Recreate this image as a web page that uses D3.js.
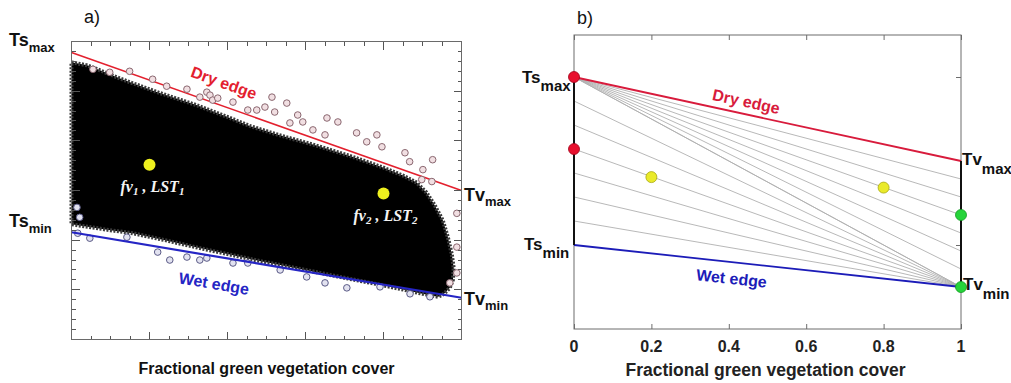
<!DOCTYPE html>
<html><head><meta charset="utf-8">
<script src="https://cdn.jsdelivr.net/npm/d3@7"></script>
<style>body{margin:0;background:#fff}svg{display:block}</style>
</head><body>
<script>
// ---------- DATA ----------
const fvTicks = [0, 0.2, 0.4, 0.6, 0.8, 1];
const fvTickLabels = ["0", "0.2", "0.4", "0.6", "0.8", "1"];
const xTitle = "Fractional green vegetation cover";

// Panel a (fv, LST)
const dryEdgeA = [[0, 318.9], [1, 305.0]];
const wetEdgeA = [[0, 300.8], [1, 294.2]];
const cloudOutlineA = [
  [0, 317.9], [0.04, 317.6], [0.073, 317.1], [0.11, 316.5], [0.15, 315.9], [0.22, 314.9],
  [0.32, 313.6], [0.40, 312.4], [0.457, 311.5], [0.53, 310.6], [0.63, 309.5],
  [0.72, 308.4], [0.80, 307.3], [0.85, 306.5], [0.885, 305.8], [0.91, 304.8],
  [0.93, 303.6], [0.952, 302.0], [0.965, 300.3], [0.975, 298.6], [0.98, 297.2],
  [0.978, 296.0], [0.97, 295.2], [0.955, 294.6], [0.94, 294.3],
  [0.90, 294.6], [0.842, 295.1], [0.78, 295.6], [0.714, 296.1], [0.60, 297.0],
  [0.483, 297.9], [0.40, 298.6], [0.329, 299.2], [0.24, 300.0], [0.157, 300.7],
  [0.10, 301.0], [0.05, 301.3], [0, 301.6]
];
const dryOutliersA = [
  [0.055, 317.2], [0.098, 316.9], [0.149, 317.0], [0.208, 316.2], [0.244, 315.5],
  [0.296, 315.2], [0.329, 314.4], [0.347, 314.9], [0.355, 314.6], [0.362, 314.1],
  [0.375, 314.3], [0.414, 313.9], [0.452, 313.1], [0.475, 313.1], [0.496, 313.4],
  [0.514, 314.4], [0.521, 312.9], [0.552, 313.8], [0.560, 311.8], [0.580, 312.6],
  [0.593, 311.9], [0.619, 311.1], [0.650, 310.6], [0.655, 312.3], [0.683, 311.9],
  [0.731, 310.8], [0.757, 309.9], [0.783, 310.6], [0.796, 309.4], [0.855, 308.8],
  [0.867, 307.9], [0.901, 307.1], [0.926, 308.1], [0.898, 306.1], [0.924, 305.9],
  [0.988, 302.7], [0.988, 299.3], [0.988, 296.7], [0.970, 295.7]
];
const wetOutliersA = [
  [0.014, 303.3], [0.021, 302.3], [0.016, 300.7], [0.047, 300.2], [0.142, 300.3],
  [0.221, 298.8], [0.252, 298.0], [0.296, 298.3], [0.329, 298.0], [0.347, 298.2],
  [0.414, 297.7], [0.452, 297.7], [0.535, 297.0], [0.603, 296.3], [0.650, 295.7],
  [0.706, 295.2], [0.791, 295.3], [0.868, 294.6], [0.919, 294.3]
];
const pixelsA = [[0.2, 307.6], [0.8, 304.7]];
const pixelLabelsA = [["fv", "1", "LST", "1"], ["fv", "2", "LST", "2"]];

// Panel b
const TsMax = 316, TsMin = 292, TvMax = 304, TvMin = 286;
const leftIsoB = [316, 312.57, 309.14, 305.71, 302.29, 298.86, 295.43];
const rightIsoB = [301.43, 298.86, 296.29, 293.71, 291.14, 288.57, 286];
const redDotsB = [[0, 316], [0, 305.71]];
const greenDotsB = [[1, 296.29], [1, 286]];
const yellowDotsB = [[0.2, 301.7], [0.8, 300.2]];

// ---------- DRAW ----------
const W = 1011, H = 383;
const svg = d3.select("body").append("svg").attr("width", W).attr("height", H)
  .style("font-family", "'Liberation Sans', Arial, sans-serif");

const xa = d3.scaleLinear([0, 1], [71.5, 461.5]);
const ya = d3.scaleLinear([290, 320], [339.5, 41.5]);
const xb = d3.scaleLinear([0, 1], [574, 961]);
const yb = d3.scaleLinear([280, 322], [329, 35]);

const axisCol = "#555";
const red = "#e3202e", blue = "#2525c4";

function label(g, x, y, main, sub, size, subSize, dy, anchor) {
  const t = g.append("text").attr("x", x).attr("y", y).attr("font-weight", "bold")
    .attr("font-size", size).attr("fill", "#111").attr("text-anchor", anchor || "start");
  t.append("tspan").text(main);
  t.append("tspan").attr("font-size", subSize).attr("dy", dy).text(sub);
  return t;
}

// ===== Panel a =====
const ga = svg.append("g");
const line = (xs, ys) => d3.line().x(d => xs(d[0])).y(d => ys(d[1]));

ga.append("path").datum(cloudOutlineA)
  .attr("d", line(xa, ya).curve(d3.curveLinearClosed))
  .attr("fill", "#000").attr("stroke", "#3a3a3a").attr("stroke-width", 4)
  .attr("stroke-dasharray", "2,1.5");

ga.selectAll("circle.wet").data(wetOutliersA).join("circle").attr("class", "wet")
  .attr("cx", d => xa(d[0])).attr("cy", d => ya(d[1])).attr("r", 3.3)
  .attr("fill", "#e2e2f0").attr("stroke", "#5a5a86").attr("stroke-width", 1);

ga.append("path").datum(dryEdgeA).attr("d", line(xa, ya))
  .attr("stroke", red).attr("stroke-width", 1.6).attr("fill", "none");
ga.append("path").datum(wetEdgeA).attr("d", line(xa, ya))
  .attr("stroke", blue).attr("stroke-width", 2.2).attr("fill", "none");

ga.selectAll("circle.dry").data(dryOutliersA).join("circle").attr("class", "dry")
  .attr("cx", d => xa(d[0])).attr("cy", d => ya(d[1])).attr("r", 3.3)
  .attr("fill", "#f1dfe2").attr("stroke", "#8a6770").attr("stroke-width", 1);

// axes / ticks
function ticksA() {
  const minorX = d3.range(0, 1.0001, 0.05), majorX = fvTicks;
  const minorY = d3.range(290, 320.001, 1), majorY = d3.range(290, 320.001, 5);
  const mk = (axisFn, scale, vals, len) => axisFn(scale).tickValues(vals).tickSize(len).tickFormat("").offset(0);
  const add = (ax, tr) => {
    const g = ga.append("g").attr("transform", tr).call(ax);
    g.select(".domain").remove();
    g.selectAll("line").attr("stroke", axisCol).attr("stroke-width", 1).attr("shape-rendering", "crispEdges");
  };
  add(mk(d3.axisBottom, xa, minorX, 4), `translate(0,${ya(320)})`);
  add(mk(d3.axisBottom, xa, majorX, 8), `translate(0,${ya(320)})`);
  add(mk(d3.axisTop, xa, minorX, 4), `translate(0,${ya(290)})`);
  add(mk(d3.axisTop, xa, majorX, 8), `translate(0,${ya(290)})`);
  add(mk(d3.axisRight, ya, minorY, 4), `translate(${xa(0)},0)`);
  add(mk(d3.axisRight, ya, majorY, 8), `translate(${xa(0)},0)`);
  add(mk(d3.axisLeft, ya, minorY, 4), `translate(${xa(1)},0)`);
  add(mk(d3.axisLeft, ya, majorY, 8), `translate(${xa(1)},0)`);
}
ticksA();
ga.append("rect").attr("x", xa(0)).attr("y", ya(320)).attr("width", xa(1) - xa(0))
  .attr("height", ya(290) - ya(320)).attr("fill", "none").attr("stroke", "#6a6a6a")
  .attr("stroke-width", 1).attr("shape-rendering", "crispEdges");

// yellow pixels
ga.selectAll("circle.px").data(pixelsA).join("circle").attr("class", "px")
  .attr("cx", d => xa(d[0])).attr("cy", d => ya(d[1])).attr("r", 6).attr("fill", "#eef01e");
pixelsA.forEach((p, i) => {
  const l = pixelLabelsA[i];
  const t = ga.append("text").attr("x", xa(p[0]) + (i === 0 ? -29 : -30)).attr("y", ya(p[1]) + (i === 0 ? 27 : 28))
    .attr("fill", "#f4f4f4").attr("font-family", "'Liberation Serif', 'DejaVu Serif', serif")
    .attr("font-style", "italic").attr("font-weight", "bold").attr("font-size", 16);
  t.append("tspan").text(l[0]);
  t.append("tspan").attr("font-size", 11).attr("dy", 3).text(l[1]);
  t.append("tspan").attr("dy", -3).text(" , " + l[2]);
  t.append("tspan").attr("font-size", 11).attr("dy", 3).text(l[3]);
});

// edge labels
const angA1 = Math.atan2(ya(dryEdgeA[1][1]) - ya(dryEdgeA[0][1]), xa(1) - xa(0)) * 180 / Math.PI;
const angA2 = Math.atan2(ya(wetEdgeA[1][1]) - ya(wetEdgeA[0][1]), xa(1) - xa(0)) * 180 / Math.PI;
ga.append("text").attr("transform", `translate(222,88) rotate(${angA1})`).attr("text-anchor", "middle")
  .attr("fill", red).attr("font-weight", "bold").attr("font-size", 16).text("Dry edge");
ga.append("text").attr("transform", `translate(213,289) rotate(${angA2})`).attr("text-anchor", "middle")
  .attr("fill", blue).attr("font-weight", "bold").attr("font-size", 16).text("Wet edge");

label(ga, 9, 46, "Ts", "max", 18, 13, 6);
label(ga, 9, 227, "Ts", "min", 18, 13, 6);
label(ga, 464, 201, "Tv", "max", 18, 13, 5);
label(ga, 464, 305, "Tv", "min", 18, 13, 5);
ga.append("text").attr("x", 84).attr("y", 23).attr("font-size", 18).attr("fill", "#111").text("a)");
ga.append("text").attr("x", (xa(0) + xa(1)) / 2).attr("y", 374).attr("text-anchor", "middle")
  .attr("font-weight", "bold").attr("font-size", 16).attr("fill", "#111").text(xTitle);

// ===== Panel b =====
const gb = svg.append("g");
gb.append("rect").attr("x", xb(0)).attr("y", yb(322)).attr("width", xb(1) - xb(0))
  .attr("height", yb(280) - yb(322)).attr("fill", "none").attr("stroke", "#6d6d6d").attr("stroke-width", 1);
[[d3.axisBottom, 322], [d3.axisTop, 280]].forEach(([fn, v]) => {
  const g = gb.append("g").attr("transform", `translate(0,${yb(v)})`)
    .call(fn(xb).tickValues(fvTicks).tickSize(5).tickFormat(""));
  g.select(".domain").remove(); g.selectAll("line").attr("stroke", "#6d6d6d");
});
{
  const g = gb.append("g").attr("transform", `translate(${xb(1)},0)`)
    .call(d3.axisLeft(yb).tickValues([TsMin, TsMax]).tickSize(5).tickFormat(""));
  g.select(".domain").remove(); g.selectAll("line").attr("stroke", "#6d6d6d");
}
const fanCol = "#b0b0b0";
leftIsoB.forEach(v => gb.append("path").datum([[0, v], [1, TvMin]]).attr("d", line(xb, yb))
  .attr("stroke", fanCol).attr("stroke-width", 0.9).attr("fill", "none"));
rightIsoB.forEach(v => gb.append("path").datum([[0, TsMax], [1, v]]).attr("d", line(xb, yb))
  .attr("stroke", fanCol).attr("stroke-width", 0.9).attr("fill", "none"));
gb.append("path").datum([[0, TsMax], [1, TvMax]]).attr("d", line(xb, yb))
  .attr("stroke", "#d81b3c").attr("stroke-width", 1.8).attr("fill", "none");
gb.append("path").datum([[0, TsMin], [1, TvMin]]).attr("d", line(xb, yb))
  .attr("stroke", "#1c1cb8").attr("stroke-width", 1.8).attr("fill", "none");
gb.append("path").datum([[0, TsMax], [0, TsMin]]).attr("d", line(xb, yb))
  .attr("stroke", "#111").attr("stroke-width", 2);
gb.append("path").datum([[1, TvMax], [1, TvMin]]).attr("d", line(xb, yb))
  .attr("stroke", "#111").attr("stroke-width", 2);
const dots = (data, fill, stroke, r) => gb.append("g").selectAll("circle").data(data).join("circle")
  .attr("cx", d => xb(d[0])).attr("cy", d => yb(d[1])).attr("r", r)
  .attr("fill", fill).attr("stroke", stroke).attr("stroke-width", 0.8);
dots(redDotsB, "#e8102e", "#a00018", 5.5);
dots(greenDotsB, "#26d43a", "#139a22", 5.5);
dots(yellowDotsB, "#eaea2a", "#a8a810", 5.5);

const angB1 = Math.atan2(yb(TvMax) - yb(TsMax), xb(1) - xb(0)) * 180 / Math.PI;
const angB2 = Math.atan2(yb(TvMin) - yb(TsMin), xb(1) - xb(0)) * 180 / Math.PI;
gb.append("text").attr("transform", `translate(745,107) rotate(${angB1})`).attr("text-anchor", "middle")
  .attr("fill", "#d81b3c").attr("font-weight", "bold").attr("font-size", 16).text("Dry edge");
gb.append("text").attr("transform", `translate(731,284) rotate(${angB2})`).attr("text-anchor", "middle")
  .attr("fill", "#1c1cb8").attr("font-weight", "bold").attr("font-size", 16).text("Wet edge");

gb.selectAll("text.tl").data(fvTicks).join("text").attr("class", "tl")
  .attr("x", d => xb(d)).attr("y", 352).attr("text-anchor", "middle")
  .attr("font-weight", "bold").attr("font-size", 16).attr("fill", "#222")
  .text((d, i) => fvTickLabels[i]);
gb.append("text").attr("x", (xb(0) + xb(1)) / 2 - 2).attr("y", 376).attr("text-anchor", "middle")
  .attr("font-weight", "bold").attr("font-size", 17.5).attr("fill", "#222").text(xTitle);

label(gb, 522, yb(TsMax) + 6, "Ts", "max", 17, 15, 8);
label(gb, 524, yb(TsMin) + 5, "Ts", "min", 17, 15, 8);
label(gb, 962, yb(TvMax) + 4, "Tv", "max", 17, 15, 9);
label(gb, 963, yb(TvMin) + 3, "Tv", "min", 17, 15, 9);
gb.append("text").attr("x", 577).attr("y", 24).attr("font-size", 18).attr("fill", "#111").text("b)");
</script>
</body></html>
